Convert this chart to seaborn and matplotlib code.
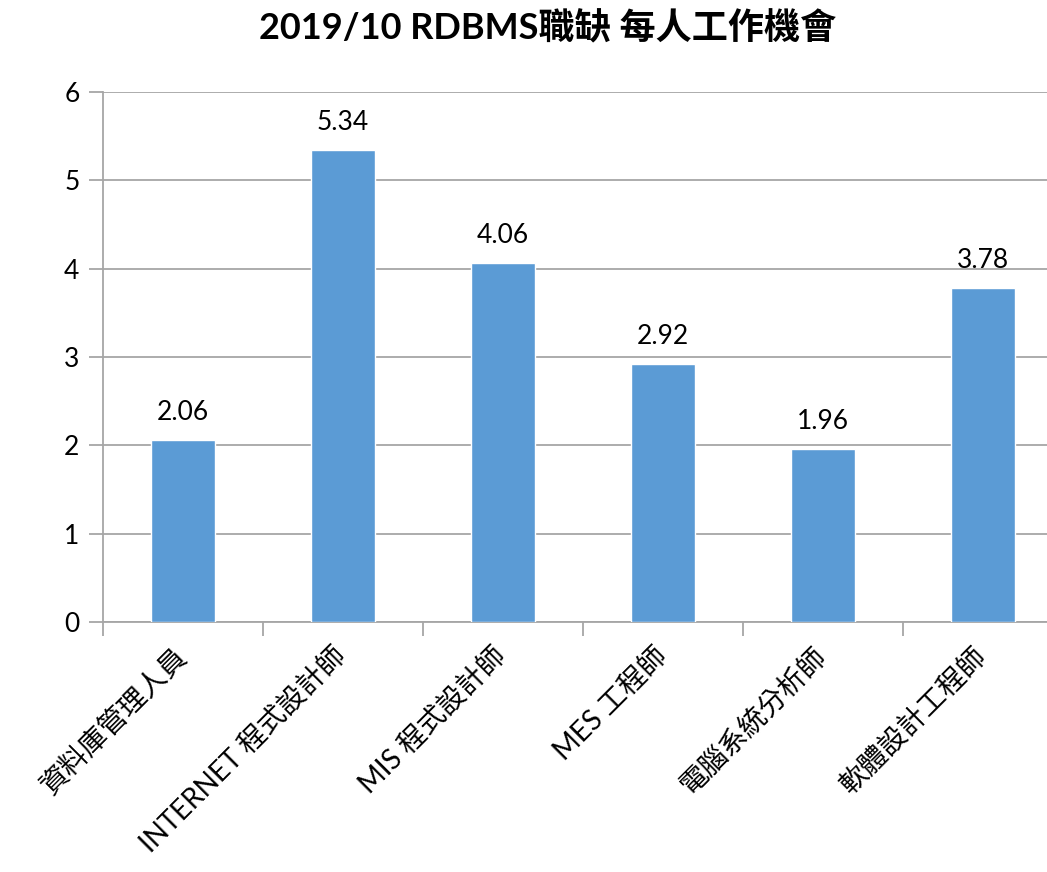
import matplotlib
matplotlib.use('Agg')
import matplotlib.pyplot as plt
import pandas as pd
import seaborn as sns

# job titles and jobs-per-person ratio, 2019/10
jobs = ['資料庫管理人員', 'INTERNET 程式設計師', 'MIS 程式設計師',
        'MES 工程師', '電腦系統分析師', '軟體設計工程師']
ratio = [2.06, 5.34, 4.06, 2.92, 1.96, 3.78]
yticks = [0, 1, 2, 3, 4, 5, 6]

df = pd.DataFrame({'job': jobs, 'ratio': ratio})

sns.set_theme(style='white')
plt.rcParams['font.family'] = ['Lato', 'Noto Sans CJK TC', 'DejaVu Sans']
plt.rcParams['text.color'] = 'black'
plt.rcParams['xtick.color'] = 'black'
plt.rcParams['ytick.color'] = 'black'

fig = plt.figure(figsize=(10.47, 8.72), dpi=100)
ax = fig.add_axes([103 / 1047, 1 - 622 / 872, 1 - 103 / 1047, (622 - 92) / 872])

sns.barplot(data=df, x='job', y='ratio', color='#5B9BD5', saturation=1,
            width=0.4, ax=ax, zorder=3)

ax.set_ylim(0, 6)
ax.set_xlim(-0.5, 5.4)
ax.set_yticks(yticks)
ax.yaxis.grid(True, color='#A6A6A6', linewidth=1.3, zorder=0)
ax.set_axisbelow(True)
for s in ['top', 'right']:
    ax.spines[s].set_visible(False)
for s in ['left', 'bottom']:
    ax.spines[s].set_color('#A6A6A6')
    ax.spines[s].set_linewidth(1.3)
ax.tick_params(axis='y', length=10, width=1.3, color='#A6A6A6', labelsize=19,
               labelcolor='black', pad=7, left=True)
ax.set_xlabel('')
ax.set_ylabel('')

# x ticks at category boundaries, labels at centres
ax.set_xticks([i - 0.5 for i in range(len(jobs))], minor=False)
ax.set_xticklabels([])
ax.tick_params(axis='x', which='major', length=10, width=1.3, color='#A6A6A6',
               bottom=True)
ax.set_xticks([i - 0.06 for i in range(len(jobs))], minor=True)
ax.set_xticklabels(jobs, minor=True, rotation=45, ha='right',
                   rotation_mode='anchor', fontsize=20, color='black')
ax.tick_params(axis='x', which='minor', length=0, pad=15)

for i, v in enumerate(ratio):
    ax.text(i, v + 0.17, f'{v:.2f}', ha='center', va='bottom', fontsize=19,
            color='black')

fig.suptitle('2019/10 RDBMS職缺 每人工作機會', x=0.523, y=0.987, fontsize=26,
             fontweight='bold', color='black')

fig.savefig('out.png', dpi=100)
